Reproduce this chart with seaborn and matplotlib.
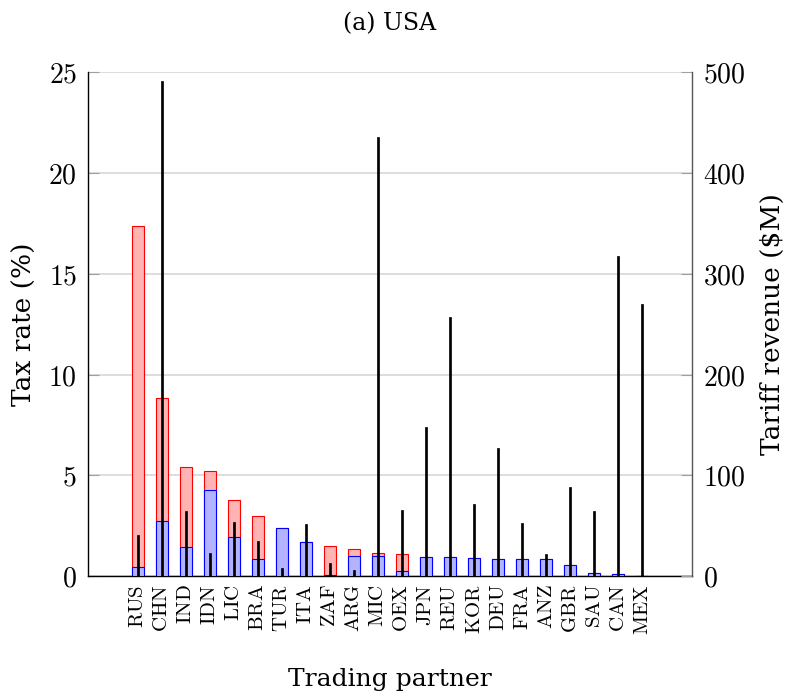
import matplotlib
matplotlib.use('Agg')
import matplotlib.pyplot as plt
import seaborn as sns

# trading partners, sorted by total tax rate
partners = ['RUS', 'CHN', 'IND', 'IDN', 'LIC', 'BRA', 'TUR', 'ITA', 'ZAF', 'ARG', 'MIC',
            'OEX', 'JPN', 'REU', 'KOR', 'DEU', 'FRA', 'ANZ', 'GBR', 'SAU', 'CAN', 'MEX']
total_rate = [17.35, 8.85, 5.42, 5.2, 3.76, 2.99, 2.38, 1.7, 1.47, 1.32, 1.14,
              1.09, 0.96, 0.93, 0.9, 0.86, 0.86, 0.86, 0.57, 0.13, 0.1, 0.02]
tariff_rate = [0.43, 2.74, 1.42, 4.26, 1.94, 0.85, 2.36, 1.69, 0.05, 0.99, 0.99,
               0.23, 0.96, 0.93, 0.9, 0.86, 0.86, 0.86, 0.55, 0.13, 0.1, 0.02]
revenue = [41, 491, 65, 23, 54, 35, 8, 52, 13, 6, 436,
           66, 148, 257, 71, 127, 53, 22, 88, 65, 318, 270]

rate_ticks = [0, 5, 10, 15, 20, 25]
revenue_ticks = [0, 100, 200, 300, 400, 500]

sns.set_style('white')
plt.rcParams['font.family'] = ['DejaVu Serif']
plt.rcParams['mathtext.fontset'] = 'cm'
plt.rcParams['text.color'] = 'black'
plt.rcParams['axes.labelcolor'] = 'black'
plt.rcParams['xtick.color'] = 'black'
plt.rcParams['ytick.color'] = 'black'

fig = plt.figure(figsize=(7.95, 6.98), dpi=100)
ax = fig.add_axes([0.1107, 0.1748, 0.7597, 0.7216])

sns.barplot(x=partners, y=total_rate, ax=ax, color='#ffb3b3', edgecolor='red',
            linewidth=0.8, width=0.5, saturation=1, zorder=2)
sns.barplot(x=partners, y=tariff_rate, ax=ax, color='#b3b3ff', edgecolor='blue',
            linewidth=0.8, width=0.5, saturation=1, zorder=3)

ax.set_ylim(0, 25)
ax.set_yticks(rate_ticks)
ax.set_yticklabels(['$%d$' % v for v in rate_ticks], fontsize=20)
ax.set_xticks(range(len(partners)))
ax.set_xticklabels([r'$\mathrm{%s}$' % p for p in partners], rotation=90, fontsize=15)
ax.grid(axis='y', color='#d3d3d3', linewidth=1.1, zorder=0)
ax.set_axisbelow(True)
ax.tick_params(axis='y', direction='in', length=8, color='#a0a0a0', pad=8)
ax.tick_params(axis='x', length=0, pad=6)
ax.set_ylabel('Tax rate (%)', fontsize=19, labelpad=8)
ax.set_xlabel('Trading partner', fontsize=18, labelpad=24)
ax.set_title('(a) USA', fontsize=17, pad=30)
for side in ['left', 'bottom']:
    ax.spines[side].set_color('black')
    ax.spines[side].set_linewidth(1.0)
ax.spines['top'].set_visible(False)
ax.spines['right'].set_visible(False)

ax2 = ax.twinx()
sns.barplot(x=partners, y=revenue, ax=ax2, color='black', edgecolor='black',
            linewidth=0.5, width=0.1, saturation=1)
ax2.set_ylim(0, 500)
ax2.set_yticks(revenue_ticks)
ax2.set_yticklabels(['$%d$' % v for v in revenue_ticks], fontsize=20)
ax2.tick_params(axis='y', direction='in', length=8, color='#a0a0a0', pad=8)
ax2.set_ylabel('Tariff revenue (\\$M)', fontsize=19, labelpad=10)
ax2.spines['top'].set_visible(False)
ax2.spines['left'].set_visible(False)
ax2.spines['bottom'].set_visible(False)
ax2.spines['right'].set_color('#555555')
ax2.spines['right'].set_linewidth(1.0)

ax.set_xlim(-2.08, len(partners) - 1 + 2.08)
ax2.set_xlim(-2.08, len(partners) - 1 + 2.08)

fig.savefig('out.png', dpi=100)
plt.close(fig)
